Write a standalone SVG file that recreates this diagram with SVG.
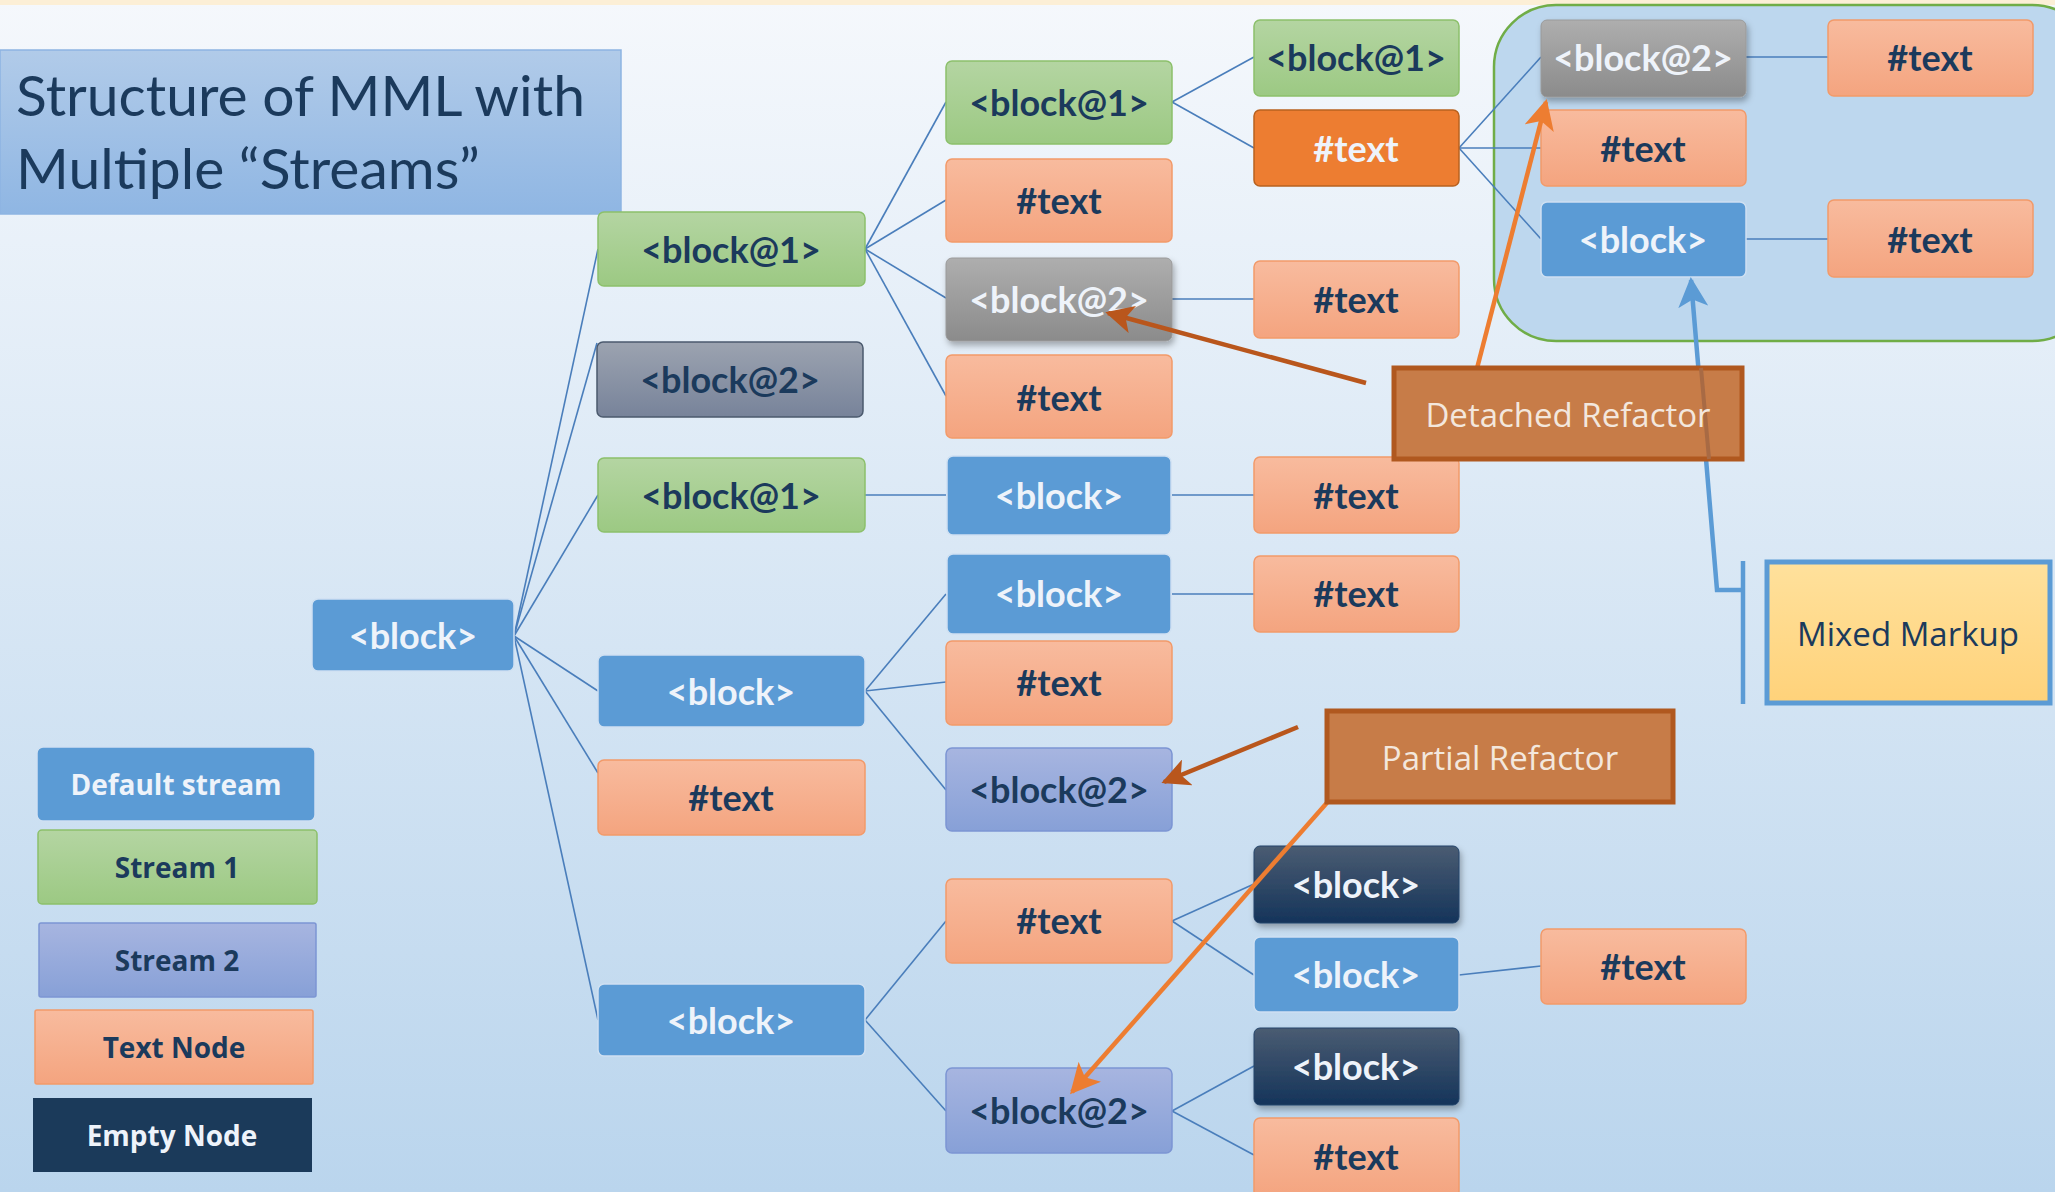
<svg xmlns="http://www.w3.org/2000/svg" width="2055" height="1192" viewBox="0 0 2055 1192">
<defs>
<linearGradient id="bg" x1="0" y1="0" x2="0" y2="1"><stop offset="0" stop-color="#f5f8fc"/><stop offset="1" stop-color="#bad5ed"/></linearGradient>
<linearGradient id="gTitle" x1="0" y1="0" x2="0" y2="1"><stop offset="0" stop-color="#b1cbe9"/><stop offset="1" stop-color="#8fb6e3"/></linearGradient>
<linearGradient id="gGreen" x1="0" y1="0" x2="0" y2="1"><stop offset="0" stop-color="#b4d5a2"/><stop offset="1" stop-color="#9cc983"/></linearGradient>
<linearGradient id="gText" x1="0" y1="0" x2="0" y2="1"><stop offset="0" stop-color="#f8bb9e"/><stop offset="1" stop-color="#f4a47f"/></linearGradient>
<linearGradient id="gPurple" x1="0" y1="0" x2="0" y2="1"><stop offset="0" stop-color="#a7b5e0"/><stop offset="1" stop-color="#87a0d7"/></linearGradient>
<linearGradient id="gSlate" x1="0" y1="0" x2="0" y2="1"><stop offset="0" stop-color="#9ca3b0"/><stop offset="1" stop-color="#77839a"/></linearGradient>
<linearGradient id="gGray" x1="0" y1="0" x2="0" y2="1"><stop offset="0" stop-color="#aeaeae"/><stop offset="1" stop-color="#8b8b8b"/></linearGradient>
<linearGradient id="gDark" x1="0" y1="0" x2="0" y2="1"><stop offset="0" stop-color="#4a5c72"/><stop offset="1" stop-color="#15345a"/></linearGradient>
<linearGradient id="gYellow" x1="0" y1="0" x2="0" y2="1"><stop offset="0" stop-color="#ffe19c"/><stop offset="1" stop-color="#ffd27a"/></linearGradient>
<filter id="shadow" x="-10%" y="-10%" width="130%" height="140%"><feDropShadow dx="2" dy="4" stdDeviation="3" flood-color="#000" flood-opacity="0.3"/></filter>
<marker id="arrOrange" viewBox="0 0 10 10" refX="9" refY="5" markerWidth="30" markerHeight="30" markerUnits="userSpaceOnUse" orient="auto"><path d="M0,0 L10,5 L0,10 L2.5,5 z" fill="#ed7d31"/></marker>
<marker id="arrBrown" viewBox="0 0 10 10" refX="9" refY="5" markerWidth="28" markerHeight="28" markerUnits="userSpaceOnUse" orient="auto"><path d="M0,0 L10,5 L0,10 L2.5,5 z" fill="#b9561c"/></marker>
<marker id="arrBlue" viewBox="0 0 10 10" refX="9" refY="5" markerWidth="30" markerHeight="30" markerUnits="userSpaceOnUse" orient="auto"><path d="M0,0 L10,5 L0,10 L2.5,5 z" fill="#5b9bd5"/></marker>
</defs>
<style>
.lbl{font-family:Lato,"Open Sans","Liberation Sans",sans-serif;font-weight:bold;font-size:36px;text-anchor:middle;dominant-baseline:central}
.dk{fill:#1b3a5c}
.wt{fill:#eef3fa}
.blue{fill:#5b9bd5;stroke:#cfe0f2;stroke-width:1.5}
.green{fill:url(#gGreen);stroke:#8cc06b;stroke-width:1.5}
.txt{fill:url(#gText);stroke:#f29a6a;stroke-width:1.5}
.purple{fill:url(#gPurple);stroke:#7c95d3;stroke-width:1.5}
.slate{fill:url(#gSlate);stroke:#4b5a6e;stroke-width:1.5}
.gray{fill:url(#gGray);stroke:#9a9a9a;stroke-width:1}
.dark{fill:url(#gDark);stroke:#24446a;stroke-width:1}
.conn line{stroke:#4a7ebb;stroke-width:1.6}
.leg{font-family:"Open Sans",Lato,"Liberation Sans",sans-serif;font-weight:bold;font-size:28px;text-anchor:middle;dominant-baseline:central}
.call{font-family:"Open Sans",Lato,"Liberation Sans",sans-serif;font-size:33px;text-anchor:middle;dominant-baseline:central}
</style>
<rect x="0" y="0" width="2055" height="1192" fill="url(#bg)"/>
<rect x="0" y="0" width="2055" height="5" fill="#fcefd6"/>

<g id="title">
<rect x="0" y="50" width="621" height="164" fill="url(#gTitle)" stroke="#8db4e2" stroke-width="1.5"/>
<text x="16" y="116" font-family="Lato,'Open Sans',sans-serif" font-size="57" fill="#1b3a5c">Structure of MML with</text>
<text x="16" y="189" font-family="Lato,'Open Sans',sans-serif" font-size="57" fill="#1b3a5c">Multiple “Streams”</text>
</g>

<g id="mixed-container">
<rect x="1494" y="5" width="600" height="336" rx="62" fill="#bdd7ee" stroke="#70ad47" stroke-width="2.5"/>
</g>

<g class="conn" id="connectors">
<line x1="514" y1="636" x2="598" y2="249"/>
<line x1="514" y1="636" x2="597" y2="343"/>
<line x1="514" y1="636" x2="598" y2="495"/>
<line x1="514" y1="636" x2="598" y2="691"/>
<line x1="514" y1="636" x2="598" y2="773"/>
<line x1="514" y1="636" x2="598" y2="1020"/>
<line x1="865" y1="249" x2="946" y2="102"/>
<line x1="865" y1="249" x2="946" y2="200"/>
<line x1="865" y1="249" x2="946" y2="298"/>
<line x1="865" y1="249" x2="946" y2="396"/>
<line x1="1172" y1="102" x2="1254" y2="57"/>
<line x1="1172" y1="102" x2="1254" y2="148"/>
<line x1="1172" y1="299" x2="1254" y2="299"/>
<line x1="1459" y1="148" x2="1541" y2="57"/>
<line x1="1459" y1="148" x2="1541" y2="148"/>
<line x1="1459" y1="148" x2="1541" y2="239"/>
<line x1="1746" y1="57" x2="1828" y2="57"/>
<line x1="1746" y1="239" x2="1828" y2="239"/>
<line x1="865" y1="495" x2="946" y2="495"/>
<line x1="1172" y1="495" x2="1254" y2="495"/>
<line x1="865" y1="691" x2="946" y2="594"/>
<line x1="865" y1="691" x2="946" y2="682"/>
<line x1="865" y1="691" x2="946" y2="790"/>
<line x1="1172" y1="594" x2="1254" y2="594"/>
<line x1="865" y1="1020" x2="946" y2="921"/>
<line x1="865" y1="1020" x2="946" y2="1111"/>
<line x1="1172" y1="921" x2="1254" y2="884"/>
<line x1="1172" y1="921" x2="1254" y2="975"/>
<line x1="1459" y1="975" x2="1541" y2="966"/>
<line x1="1172" y1="1111" x2="1254" y2="1066"/>
<line x1="1172" y1="1111" x2="1254" y2="1155"/>
</g>

<g id="root"><rect class="blue" x="312" y="599" width="202" height="72" rx="6"/><text class="lbl wt" x="413" y="635">&lt;block&gt;</text></g>

<g id="b1"><rect class="green" x="598" y="212" width="267" height="74" rx="6"/><text class="lbl dk" x="731" y="249">&lt;block@1&gt;</text></g>
<g id="b2"><rect class="slate" x="597" y="342" width="266" height="75" rx="6"/><text class="lbl dk" x="730" y="379">&lt;block@2&gt;</text></g>
<g id="b3"><rect class="green" x="598" y="458" width="267" height="74" rx="6"/><text class="lbl dk" x="731" y="495">&lt;block@1&gt;</text></g>
<g id="b4"><rect class="blue" x="598" y="655" width="267" height="72" rx="6"/><text class="lbl wt" x="731" y="691">&lt;block&gt;</text></g>
<g id="b5"><rect class="txt" x="598" y="760" width="267" height="75" rx="6"/><text class="lbl dk" x="731" y="797">#text</text></g>
<g id="b6"><rect class="blue" x="598" y="984" width="267" height="72" rx="6"/><text class="lbl wt" x="731" y="1020">&lt;block&gt;</text></g>

<g id="c1"><rect class="green" x="946" y="61" width="226" height="83" rx="6"/><text class="lbl dk" x="1059" y="102">&lt;block@1&gt;</text></g>
<g id="c2"><rect class="txt" x="946" y="159" width="226" height="83" rx="6"/><text class="lbl dk" x="1059" y="200">#text</text></g>
<g id="c3"><rect class="gray" filter="url(#shadow)" x="946" y="258" width="226" height="83" rx="6"/><text class="lbl wt" x="1059" y="299">&lt;block@2&gt;</text></g>
<g id="c4"><rect class="txt" x="946" y="355" width="226" height="83" rx="6"/><text class="lbl dk" x="1059" y="397">#text</text></g>
<g id="c5"><rect class="blue" x="947" y="456" width="224" height="79" rx="6"/><text class="lbl wt" x="1059" y="495">&lt;block&gt;</text></g>
<g id="c6"><rect class="blue" x="947" y="554" width="224" height="80" rx="6"/><text class="lbl wt" x="1059" y="593">&lt;block&gt;</text></g>
<g id="c7"><rect class="txt" x="946" y="641" width="226" height="84" rx="6"/><text class="lbl dk" x="1059" y="682">#text</text></g>
<g id="c8"><rect class="purple" x="946" y="748" width="226" height="83" rx="6"/><text class="lbl dk" x="1059" y="789">&lt;block@2&gt;</text></g>
<g id="c9"><rect class="txt" x="946" y="879" width="226" height="84" rx="6"/><text class="lbl dk" x="1059" y="920">#text</text></g>
<g id="c10"><rect class="purple" x="946" y="1068" width="226" height="85" rx="6"/><text class="lbl dk" x="1059" y="1110">&lt;block@2&gt;</text></g>

<g id="d1"><rect class="green" x="1254" y="20" width="205" height="76" rx="6"/><text class="lbl dk" x="1356" y="57">&lt;block@1&gt;</text></g>
<g id="d2"><rect x="1254" y="110" width="205" height="76" rx="6" fill="#ed7d31" stroke="#b8611f" stroke-width="1.5"/><text class="lbl wt" x="1356" y="148">#text</text></g>
<g id="d3"><rect class="txt" x="1254" y="261" width="205" height="77" rx="6"/><text class="lbl dk" x="1356" y="299">#text</text></g>
<g id="d4"><rect class="txt" x="1254" y="457" width="205" height="76" rx="6"/><text class="lbl dk" x="1356" y="495">#text</text></g>
<g id="d5"><rect class="txt" x="1254" y="556" width="205" height="76" rx="6"/><text class="lbl dk" x="1356" y="593">#text</text></g>
<g id="d6"><rect class="dark" filter="url(#shadow)" x="1254" y="846" width="205" height="77" rx="6"/><text class="lbl wt" x="1356" y="884">&lt;block&gt;</text></g>
<g id="d7"><rect class="blue" x="1254" y="937" width="205" height="75" rx="6"/><text class="lbl wt" x="1356" y="974">&lt;block&gt;</text></g>
<g id="d8"><rect class="dark" filter="url(#shadow)" x="1254" y="1028" width="205" height="77" rx="6"/><text class="lbl wt" x="1356" y="1066">&lt;block&gt;</text></g>
<g id="d9"><rect class="txt" x="1254" y="1118" width="205" height="80" rx="6"/><text class="lbl dk" x="1356" y="1156">#text</text></g>

<g id="e1"><rect class="gray" filter="url(#shadow)" x="1541" y="20" width="205" height="77" rx="6"/><text class="lbl wt" x="1643" y="57">&lt;block@2&gt;</text></g>
<g id="e2"><rect class="txt" x="1541" y="110" width="205" height="76" rx="6"/><text class="lbl dk" x="1643" y="148">#text</text></g>
<g id="e3"><rect class="blue" x="1541" y="202" width="205" height="75" rx="6"/><text class="lbl wt" x="1643" y="239">&lt;block&gt;</text></g>
<g id="e4"><rect class="txt" x="1541" y="929" width="205" height="75" rx="6"/><text class="lbl dk" x="1643" y="966">#text</text></g>

<g id="f1"><rect class="txt" x="1828" y="20" width="205" height="76" rx="6"/><text class="lbl dk" x="1930" y="57">#text</text></g>
<g id="f2"><rect class="txt" x="1828" y="200" width="205" height="77" rx="6"/><text class="lbl dk" x="1930" y="239">#text</text></g>

<g id="legend">
<g id="leg-default"><rect class="blue" x="37" y="747" width="278" height="74" rx="6"/><text class="leg wt" x="176" y="784">Default stream</text></g>
<g id="leg-s1"><rect class="green" x="38" y="830" width="279" height="74" rx="4" stroke="#6f9fd8"/><text class="leg dk" x="177" y="867">Stream 1</text></g>
<g id="leg-s2"><rect class="purple" x="39" y="923" width="277" height="74" rx="2"/><text class="leg dk" x="177" y="960">Stream 2</text></g>
<g id="leg-text"><rect class="txt" x="35" y="1010" width="278" height="74" rx="2"/><text class="leg dk" x="174" y="1047">Text Node</text></g>
<g id="leg-empty"><rect x="33" y="1098" width="279" height="74" fill="#1b3a5a"/><text class="leg wt" x="172" y="1135">Empty Node</text></g>
</g>

<g id="callout-arrows">
<line x1="1366" y1="383" x2="1108" y2="313" stroke="#b9561c" stroke-width="4.5" marker-end="url(#arrBrown)"/>
<line x1="1474" y1="380" x2="1546" y2="102" stroke="#ed7d31" stroke-width="4.5" marker-end="url(#arrOrange)"/>
<line x1="1298" y1="727" x2="1164" y2="782" stroke="#b9561c" stroke-width="4.5" marker-end="url(#arrBrown)"/>
<line x1="1340" y1="788" x2="1072" y2="1092" stroke="#ed7d31" stroke-width="4.5" marker-end="url(#arrOrange)"/>
<polyline points="1743,590 1717,590 1691,280" fill="none" stroke="#5b9bd5" stroke-width="4.5" marker-end="url(#arrBlue)"/>
<line x1="1743" y1="561" x2="1743" y2="704" stroke="#5b9bd5" stroke-width="4.5"/>
</g>

<g id="detached-refactor"><rect x="1394" y="368" width="348" height="91" fill="#c77c48" stroke="#b0581f" stroke-width="5"/><line x1="1709" y1="459" x2="1701" y2="368" stroke="#a86a44" stroke-width="4"/><text class="call" x="1568" y="414" fill="#f3e7dd">Detached Refactor</text></g>
<g id="partial-refactor"><rect x="1327" y="711" width="346" height="91" fill="#c77c48" stroke="#b0581f" stroke-width="5"/><text class="call" x="1500" y="757" fill="#f3e7dd">Partial Refactor</text></g>
<g id="mixed-markup"><rect x="1767" y="562" width="283" height="141" fill="url(#gYellow)" stroke="#5b9bd5" stroke-width="5"/><text class="call" x="1908" y="633" fill="#1b3a5c">Mixed Markup</text></g>
</svg>
